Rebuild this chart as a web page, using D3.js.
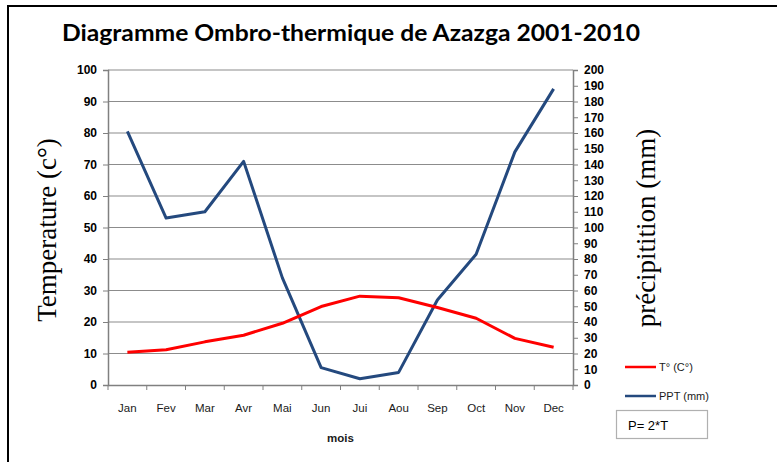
<!DOCTYPE html>
<html>
<head>
<meta charset="utf-8">
<script src="https://cdn.jsdelivr.net/npm/d3@7"></script>
<style>
  body { margin: 0; background: #fff; }
  svg { display: block; }
</style>
</head>
<body>
<svg id="chart" width="777" height="462"></svg>
<script>
const months = ['Jan', 'Fev', 'Mar', 'Avr', 'Mai', 'Jun', 'Jui', 'Aou', 'Sep', 'Oct', 'Nov', 'Dec'];
const temperature = [10.4, 11.2, 13.7, 15.8, 19.6, 24.9, 28.2, 27.7, 24.6, 21.2, 14.8, 12.0];
const precipitation = [161, 106, 110, 142, 68, 11, 4, 8, 54, 83, 148, 188];
const leftTicks = d3.range(0, 101, 10);
const rightTicks = d3.range(0, 201, 10);

const svg = d3.select('#chart');
const plot = { left: 108, right: 573, top: 70, bottom: 385 };

// outer frame (only top and left visible)
svg.append('path')
  .attr('d', 'M8,470 V6 H790')
  .attr('fill', 'none')
  .attr('stroke', '#000')
  .attr('stroke-width', 2);

svg.append('text')
  .attr('x', 62).attr('y', 41)
  .attr('textLength', 578).attr('lengthAdjust', 'spacingAndGlyphs')
  .style('font-family', 'Lato, "Open Sans", sans-serif')
  .style('font-weight', 'bold').style('font-size', '22px')
  .attr('fill', '#000')
  .text('Diagramme Ombro-thermique de Azazga 2001-2010');

const x = d3.scaleBand().domain(months).range([plot.left, plot.right]);
const yT = d3.scaleLinear().domain([0, 100]).range([plot.bottom, plot.top]);
const yP = d3.scaleLinear().domain([0, 200]).range([plot.bottom, plot.top]);

// gridlines
svg.append('g')
  .selectAll('line')
  .data(leftTicks.filter(d => d > 0))
  .enter().append('line')
  .attr('x1', plot.left).attr('x2', plot.right)
  .attr('y1', d => yT(d)).attr('y2', d => yT(d))
  .attr('stroke', '#8c8c8c').attr('stroke-width', 1.2);

// left axis
const leftAxis = svg.append('g')
  .attr('transform', `translate(${plot.left},0)`)
  .call(d3.axisLeft(yT).tickValues(leftTicks).tickSize(5).tickPadding(6));
leftAxis.selectAll('text')
  .style('font-family', 'Arial, "Liberation Sans", sans-serif')
  .style('font-weight', 'bold').style('font-size', '12px').attr('fill', '#000');

// right axis
const rightAxis = svg.append('g')
  .attr('transform', `translate(${plot.right},0)`)
  .call(d3.axisRight(yP).tickValues(rightTicks).tickSize(5).tickPadding(6));
rightAxis.selectAll('text')
  .style('font-family', 'Arial, "Liberation Sans", sans-serif')
  .style('font-weight', 'bold').style('font-size', '12px').attr('fill', '#000');

// bottom axis
const bottomAxis = svg.append('g')
  .attr('transform', `translate(0,${plot.bottom})`)
  .call(d3.axisBottom(x).tickSize(0).tickPadding(19));
bottomAxis.selectAll('text')
  .style('font-family', 'Arial, "Liberation Sans", sans-serif')
  .style('font-size', '11.5px').attr('fill', '#1a1a1a');
bottomAxis.selectAll('.boundary')
  .data(d3.range(months.length + 1))
  .enter().append('line')
  .attr('x1', i => plot.left + i * x.step()).attr('x2', i => plot.left + i * x.step())
  .attr('y1', 0).attr('y2', 5)
  .attr('stroke', '#808080');

[leftAxis, rightAxis, bottomAxis].forEach(g => {
  g.select('.domain').attr('stroke', '#808080').attr('stroke-width', 1.5);
  g.selectAll('.tick line').attr('stroke', '#808080');
});

// axis titles
svg.append('text')
  .attr('transform', 'translate(56,230) rotate(-90)')
  .attr('text-anchor', 'middle')
  .style('font-family', '"Liberation Serif", "Times New Roman", serif')
  .style('font-size', '27px').attr('fill', '#000')
  .text('Temperature (c°)');

svg.append('text')
  .attr('transform', 'translate(655,228) rotate(-90)')
  .attr('text-anchor', 'middle')
  .style('font-family', '"Liberation Serif", "Times New Roman", serif')
  .style('font-size', '27px').attr('fill', '#000')
  .text('précipitition (mm)');

svg.append('text')
  .attr('x', (plot.left + plot.right) / 2).attr('y', 442)
  .attr('text-anchor', 'middle')
  .style('font-family', 'Arial, "Liberation Sans", sans-serif')
  .style('font-weight', 'bold').style('font-size', '11.5px').attr('fill', '#1a1a1a')
  .text('mois');

// lines
const lineT = d3.line()
  .x((d, i) => x(months[i]) + x.bandwidth() / 2)
  .y(d => yT(d));
const lineP = d3.line()
  .x((d, i) => x(months[i]) + x.bandwidth() / 2)
  .y(d => yP(d));

svg.append('path')
  .datum(precipitation)
  .attr('d', lineP)
  .attr('fill', 'none').attr('stroke', '#24497e')
  .attr('stroke-width', 3).attr('stroke-linejoin', 'round');

svg.append('path')
  .datum(temperature)
  .attr('d', lineT)
  .attr('fill', 'none').attr('stroke', '#ff0000')
  .attr('stroke-width', 3).attr('stroke-linejoin', 'round');

// legend
const legend = [
  { label: 'T° (C°)', color: '#ff0000', y: 367 },
  { label: 'PPT (mm)', color: '#24497e', y: 396 }
];
const lg = svg.append('g');
lg.selectAll('line').data(legend).enter().append('line')
  .attr('x1', 625).attr('x2', 656)
  .attr('y1', d => d.y).attr('y2', d => d.y)
  .attr('stroke', d => d.color).attr('stroke-width', 2.5);
lg.selectAll('text').data(legend).enter().append('text')
  .attr('x', 659).attr('y', d => d.y + 4)
  .style('font-family', 'Arial, "Liberation Sans", sans-serif')
  .style('font-size', '11px').attr('fill', '#1a1a1a')
  .text(d => d.label);

// note box
svg.append('rect')
  .attr('x', 616.5).attr('y', 410.5).attr('width', 91).attr('height', 28)
  .attr('fill', '#fff').attr('stroke', '#b0b0b0').attr('stroke-width', 1.2);
svg.append('text')
  .attr('x', 628).attr('y', 430)
  .style('font-family', 'Arial, "Liberation Sans", sans-serif')
  .style('font-size', '13px').attr('fill', '#000')
  .text('P= 2*T');
</script>
</body>
</html>
